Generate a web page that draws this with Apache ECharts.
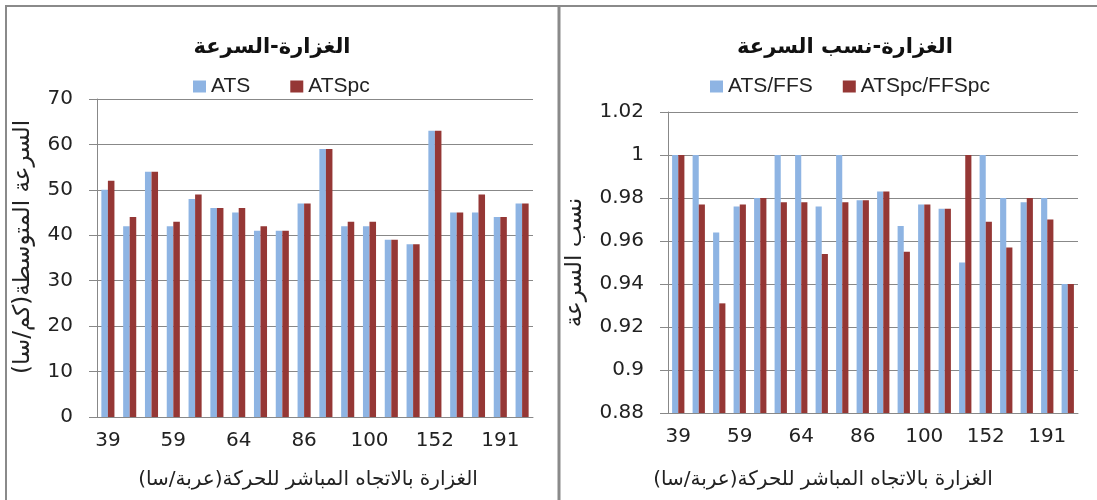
<!DOCTYPE html>
<html>
<head>
<meta charset="utf-8">
<script src="https://cdn.jsdelivr.net/npm/echarts@6/dist/echarts.min.js"></script>
<style>
  html, body { margin: 0; padding: 0; background: #ffffff; }
  #chart { width: 1097px; height: 500px; }
</style>
</head>
<body>
<div id="chart"></div>
<script>
// Traffic flow categories (veh/h); only every third one is labelled on the axis
const flows = ['39', '45', '52', '59', '60', '62', '64', '70', '78', '86',
               '90', '95', '100', '115', '130', '152', '165', '178', '191', '205'];

// Average travel speed (km/h)
const ats   = [50, 42, 54, 42, 48, 46, 45, 41, 41, 47, 59, 42, 42, 39, 38, 63, 45, 45, 44, 47];
const atsPc = [52, 44, 54, 43, 49, 46, 46, 42, 41, 47, 59, 43, 43, 39, 38, 63, 45, 49, 44, 47];

// Speed ratios (ATS / FFS)
const atsFfs     = [1.000, 1.000, 0.964, 0.976, 0.980, 1.000, 1.000, 0.976, 1.000, 0.979,
                    0.983, 0.967, 0.977, 0.975, 0.950, 1.000, 0.980, 0.978, 0.980, 0.940];
const atsPcFfsPc = [1.000, 0.977, 0.931, 0.977, 0.980, 0.978, 0.978, 0.954, 0.978, 0.979,
                    0.983, 0.955, 0.977, 0.975, 1.000, 0.969, 0.957, 0.980, 0.970, 0.940];

const speedTicks = { min: 0, max: 70, interval: 10 };
const ratioTicks = { min: 0.88, max: 1.02, interval: 0.02 };

// Right-to-left embedding so Arabic strings with brackets lay out correctly
const rtl = s => '\u202B' + s + '\u202C';

const titleLeft  = 'الغزارة-السرعة';
const titleRight = 'الغزارة-نسب السرعة';
const xName      = 'الغزارة بالاتجاه المباشر للحركة(عربة/سا)';
const yNameLeft  = 'السرعة المتوسطة(كم/سا)';
const yNameRight = 'نسب السرعة';

const BLUE = '#8EB4E3';
const RED  = '#953735';
const GRID_GREY = '#888888';
const NUM_FONT = 'DejaVu Sans';
const LEGEND_FONT = 'Liberation Sans';
const AR_FONT = 'DejaVu Sans';

function xAxisFor(gridIndex, gap, shift) {
  return {
    type: 'category',
    gridIndex: gridIndex,
    data: flows,
    boundaryGap: true,
    axisLine: { lineStyle: { color: GRID_GREY, width: 1 } },
    axisTick: { interval: 0, length: 7, lineStyle: { color: GRID_GREY } },
    axisLabel: { interval: 2, margin: 14, color: '#222', fontSize: 20, fontFamily: NUM_FONT },
    name: rtl(xName),
    nameLocation: 'middle',
    nameGap: gap,
    nameTextStyle: { color: '#222', fontSize: 20, fontFamily: AR_FONT, padding: [0, shift, 0, 0] }
  };
}

function yAxisFor(gridIndex, ticks, name, gap, shift) {
  return {
    type: 'value',
    gridIndex: gridIndex,
    min: ticks.min,
    max: ticks.max,
    interval: ticks.interval,
    axisLine: { show: true, lineStyle: { color: GRID_GREY, width: 1 } },
    axisTick: { show: true, length: 8, lineStyle: { color: GRID_GREY } },
    splitLine: { show: true, lineStyle: { color: GRID_GREY, width: 1 } },
    axisLabel: { margin: 24, color: '#222', fontSize: 20, fontFamily: NUM_FONT },
    name: rtl(name),
    nameLocation: 'middle',
    nameRotate: 90,
    nameGap: gap,
    nameTextStyle: { color: '#222', fontSize: 23, fontFamily: AR_FONT, padding: [0, 0, 0, shift] }
  };
}

function barSeries(name, data, color, axisIndex) {
  return {
    type: 'bar',
    name: name,
    data: data,
    xAxisIndex: axisIndex,
    yAxisIndex: axisIndex,
    itemStyle: { color: color },
    barGap: '0%',
    barCategoryGap: '40%',
    animation: false
  };
}

const chart = echarts.init(document.getElementById('chart'), null, { renderer: 'canvas' });

chart.setOption({
  backgroundColor: '#ffffff',
  animation: false,
  title: [
    {
      text: rtl(titleLeft), left: 267, top: 32, textAlign: 'center',
      textStyle: { fontSize: 21, fontWeight: 'bold', color: '#111', fontFamily: AR_FONT }
    },
    {
      text: rtl(titleRight), left: 840, top: 32, textAlign: 'center',
      textStyle: { fontSize: 21, fontWeight: 'bold', color: '#111', fontFamily: AR_FONT }
    }
  ],
  legend: [
    {
      data: ['ATS', 'ATSpc'], left: 188, top: 71,
      itemWidth: 13, itemHeight: 12, itemGap: 40, icon: 'rect',
      textStyle: { fontSize: 21, color: '#222', fontFamily: LEGEND_FONT }
    },
    {
      data: ['ATS/FFS', 'ATSpc/FFSpc'], left: 705, top: 71,
      itemWidth: 13, itemHeight: 12, itemGap: 30, icon: 'rect',
      textStyle: { fontSize: 21, color: '#222', fontFamily: LEGEND_FONT }
    }
  ],
  grid: [
    { left: 97, top: 99, width: 436, height: 318 },
    { left: 668, top: 112, width: 410, height: 301 }
  ],
  xAxis: [xAxisFor(0, 53, 14), xAxisFor(1, 57, 100)],
  yAxis: [
    yAxisFor(0, speedTicks, yNameLeft, 62, 22),
    yAxisFor(1, ratioTicks, yNameRight, 81, 0)
  ],
  series: [
    barSeries('ATS', ats, BLUE, 0),
    barSeries('ATSpc', atsPc, RED, 0),
    barSeries('ATS/FFS', atsFfs, BLUE, 1),
    barSeries('ATSpc/FFSpc', atsPcFfsPc, RED, 1)
  ],
  graphic: [
    // chart-area frames
    { type: 'line', shape: { x1: 5, y1: 6, x2: 1097, y2: 6 }, style: { stroke: '#8a8a8a', lineWidth: 2 } },
    { type: 'line', shape: { x1: 6, y1: 6, x2: 6, y2: 500 }, style: { stroke: '#8a8a8a', lineWidth: 2 } },
    { type: 'line', shape: { x1: 559, y1: 6, x2: 559, y2: 500 }, style: { stroke: '#8a8a8a', lineWidth: 3 } }
  ]
});
</script>
</body>
</html>
